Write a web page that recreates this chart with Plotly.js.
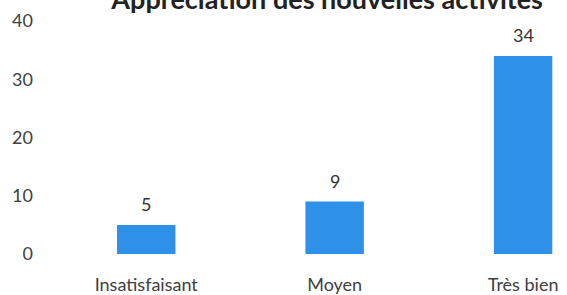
<!DOCTYPE html>
<html><head><meta charset="utf-8">
<script src="https://cdn.plot.ly/plotly-3.0.1.min.js"></script>
<style>html,body{margin:0;padding:0;background:#fff;}#chart{width:567px;height:295px;}</style>
</head><body><div id="chart"></div>
<script>
const categories = ["Insatisfaisant", "Moyen", "Très bien"];
const values = [5, 9, 34];
const titleText = "Appréciation des nouvelles activités";

const trace = {
  type: 'bar', x: categories, y: values,
  marker: {color: '#2E90E6'},
  width: 0.31,
  cliponaxis: false, hoverinfo: 'none'
};
const annotations = categories.map((c, i) => ({
  x: c, y: values[i], xref: 'x', yref: 'y', text: String(values[i]),
  showarrow: false, yanchor: 'bottom', yshift: 8,
  font: {family: 'Lato, sans-serif', size: 18, color: '#333'}
}));
const layout = {
  width: 567, height: 295,
  margin: {l: 52, r: 0, t: 21, b: 41},
  paper_bgcolor: '#fff', plot_bgcolor: '#fff',
  showlegend: false,
  annotations: annotations,
  title: {text: '<b>' + titleText + '</b>', x: 0.577, xanchor: 'center', yref: 'container', y: 1.0, yanchor: 'middle',
          font: {family: 'Lato, sans-serif', size: 27, color: '#222'}},
  xaxis: {type: 'category', range: [-0.5, 2.233], showgrid: false, zeroline: false, showline: false,
          ticks: '', tickfont: {family: 'Lato, sans-serif', size: 18, color: '#404040'}, ticklabelstandoff: 18},
  yaxis: {range: [0, 40], dtick: 10, showgrid: false, zeroline: false, showline: false,
          ticks: '', tickfont: {family: 'Lato, sans-serif', size: 18, color: '#404040'}, ticklabelstandoff: 18}
};
Plotly.newPlot('chart', [trace], layout, {staticPlot: true, displayModeBar: false});
</script></body></html>
